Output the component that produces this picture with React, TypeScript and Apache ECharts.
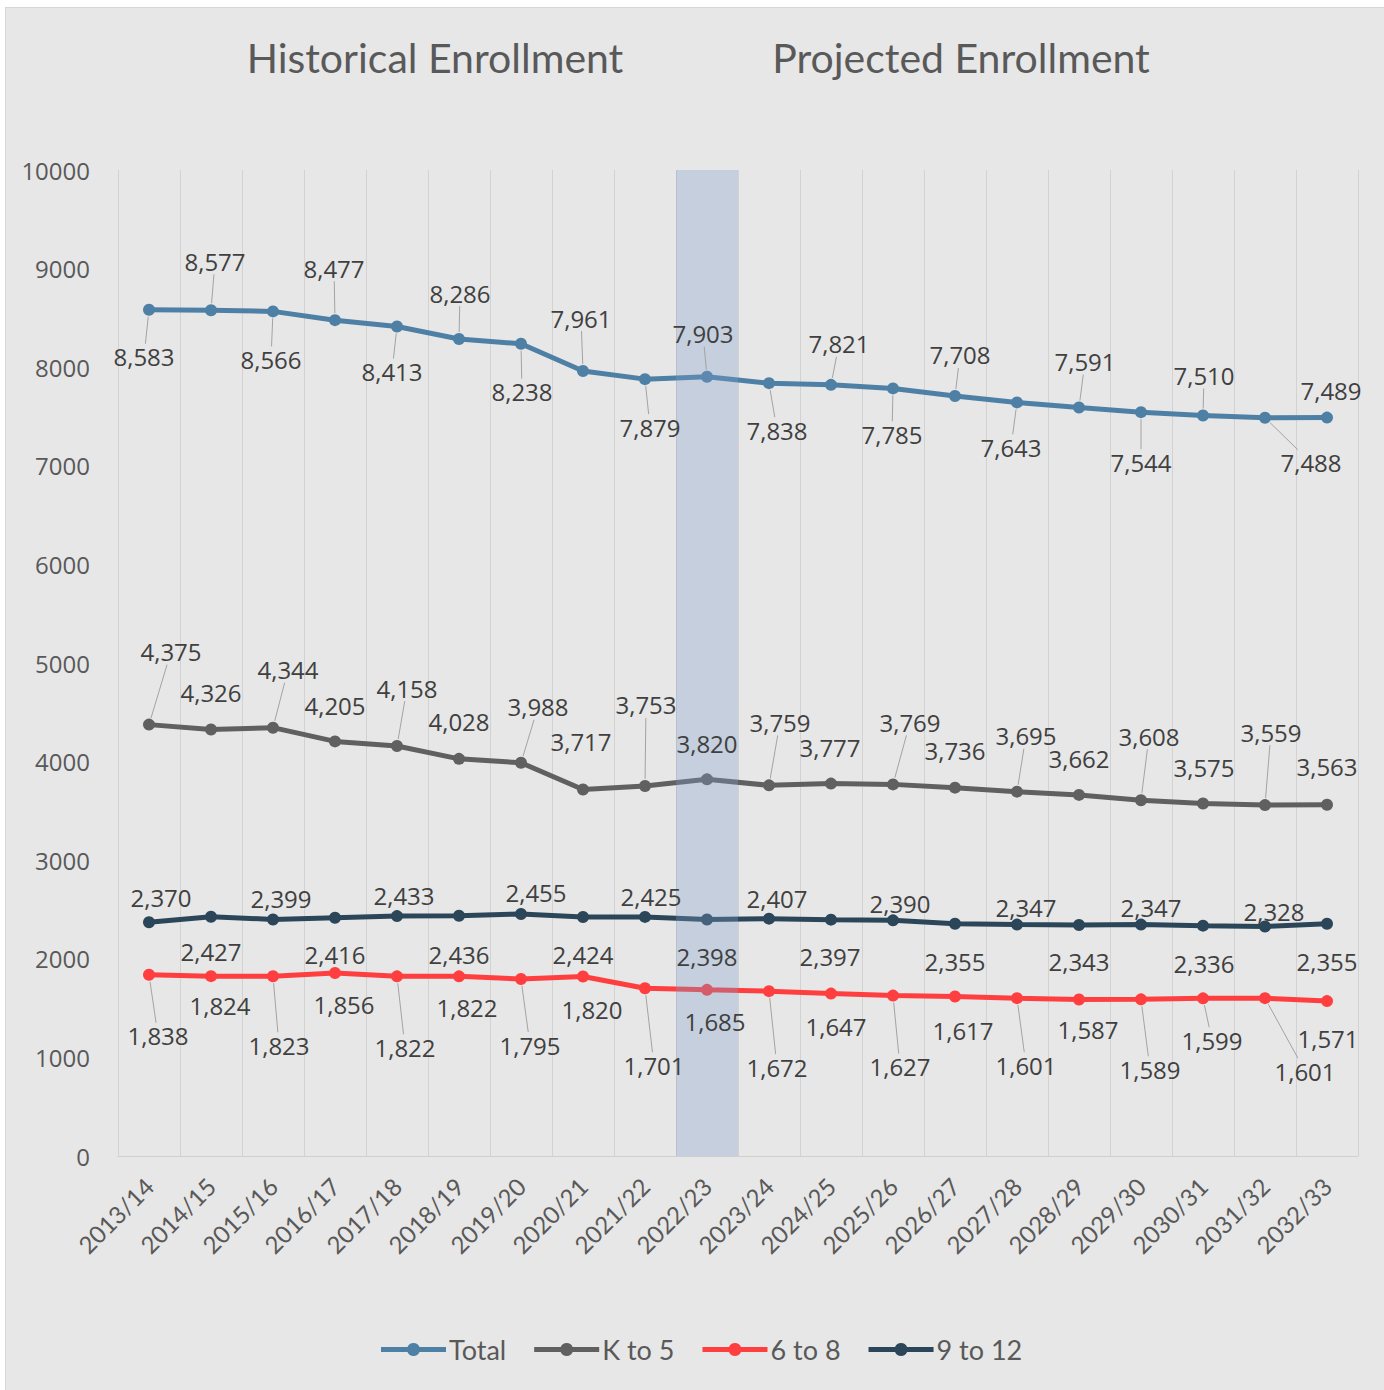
import React, { useEffect, useRef } from 'react';
import * as echarts from 'echarts';

const categories = [
  '2013/14', '2014/15', '2015/16', '2016/17', '2017/18', '2018/19', '2019/20',
  '2020/21', '2021/22', '2022/23', '2023/24', '2024/25', '2025/26', '2026/27',
  '2027/28', '2028/29', '2029/30', '2030/31', '2031/32', '2032/33',
];

const totalValues = [8583, 8577, 8566, 8477, 8413, 8286, 8238, 7961, 7879, 7903, 7838, 7821, 7785, 7708, 7643, 7591, 7544, 7510, 7488, 7489];
const kTo5Values = [4375, 4326, 4344, 4205, 4158, 4028, 3988, 3717, 3753, 3820, 3759, 3777, 3769, 3736, 3695, 3662, 3608, 3575, 3559, 3563];
const g6to8Values = [1838, 1824, 1823, 1856, 1822, 1822, 1795, 1820, 1701, 1685, 1672, 1647, 1627, 1617, 1601, 1587, 1589, 1599, 1601, 1571];
const g9to12Values = [2370, 2427, 2399, 2416, 2433, 2436, 2455, 2424, 2425, 2398, 2407, 2397, 2390, 2355, 2347, 2343, 2347, 2336, 2328, 2355];

const seriesNames = ['Total', 'K to 5', '6 to 8', '9 to 12'];
const periodTitles = ['Historical Enrollment', 'Projected Enrollment'];
const currentYear = '2022/23';
const yMin = 0;
const yMax = 10000;
const yStep = 1000;

// label placement (pixel offsets of each data label from its point) - style only
const totalLabelShift: [number, number][] = [
  [-5, 47], [4, -49], [-2, 48], [-1, -52], [-5, 45], [1, -46], [1, 48], [-2, -53], [5, 48], [-4, -43],
  [8, 47], [8, -41], [-1, 46], [5, -41], [-6, 45], [6, -46], [0, 50], [1, -40], [46, 45], [4, -27],
];
const kTo5LabelShift: [number, number][] = [
  [22, -73], [0, -37], [15, -58], [0, -36], [10, -58], [0, -37], [17, -56], [-2, -48], [1, -81], [0, -36],
  [11, -63], [-1, -36], [17, -62], [0, -37], [9, -56], [0, -36], [8, -64], [1, -36], [6, -73], [0, -38],
];
const g6to8LabelShift: [number, number][] = [
  [9, 61], [9, 29], [6, 69], [9, 32], [8, 71], [8, 31], [9, 66], [9, 33], [9, 77], [8, 32],
  [8, 76], [5, 33], [7, 71], [8, 34], [9, 67], [9, 30], [9, 70], [9, 42], [40, 73], [1, 37],
];
const g9to12LabelShift: [number, number][] = [
  [12, -25], [0, 35], [8, -21], [0, 37], [7, -21], [0, 39], [15, -21], [0, 38], [6, -20], [0, 37],
  [8, -20], [-1, 37], [7, -17], [0, 38], [9, -17], [0, 37], [10, -17], [1, 38], [9, -15], [0, 38],
];

const colors = ['#4e80a6', '#606060', '#ff3f3f', '#2c4659'];
const labelColor = '#404040';
const axisTextColor = '#595959';
const numFont = '"Open Sans", "DejaVu Sans", sans-serif';
const textFont = 'Lato, "Open Sans", sans-serif';

// legend marker: thick line with a dot in the middle (65 x 14 box)
const legendIcon =
  'path://M0 4.5 L26.5 4.5 A6.5 6.5 0 0 1 38.5 4.5 L65 4.5 L65 9.5 L38.5 9.5 A6.5 6.5 0 0 1 26.5 9.5 L0 9.5 Z';

const fmt = (v: number) => v.toLocaleString('en-US');

function makeLabelSeries(name: string, values: number[], shifts: [number, number][], leaderMin: number) {
  return {
    type: 'custom',
    name: name + ' labels',
    data: values.map((v, i) => [i, v]),
    z: 6,
    silent: true,
    clip: false,
    renderItem: (params: any, api: any) => {
      const i = params.dataIndex;
      const p = api.coord([api.value(0), api.value(1)]);
      const [dx, dy] = shifts[i];
      const lx = p[0] + dx;
      const ly = p[1] + dy;
      const children: any[] = [];
      const dist = Math.hypot(dx, dy);
      if (dist > leaderMin) {
        const hw = 30;
        const hh = 13;
        const s = Math.min(hw / Math.max(Math.abs(dx), 1e-6), hh / Math.max(Math.abs(dy), 1e-6));
        const ex = lx - dx * s;
        const ey = ly - dy * s;
        const sx = p[0] + (dx / dist) * 7;
        const sy = p[1] + (dy / dist) * 7;
        children.push({
          type: 'line',
          shape: { x1: sx, y1: sy, x2: ex, y2: ey },
          style: { stroke: '#a3a3a3', lineWidth: 1 },
        });
      }
      children.push({
        type: 'text',
        x: lx,
        y: ly,
        style: {
          text: fmt(values[i]),
          fill: labelColor,
          fontSize: 24,
          fontFamily: numFont,
          align: 'center',
          verticalAlign: 'middle',
          textAlign: 'center',
          textVerticalAlign: 'middle',
        },
      });
      return { type: 'group', children };
    },
  };
}

function makeLine(name: string, values: number[], color: string) {
  return {
    type: 'line',
    name,
    data: values,
    z: 3,
    symbol: 'circle',
    symbolSize: 12,
    lineStyle: { color, width: 5 },
    itemStyle: { color },
    label: { show: false },
  };
}

export default function App() {
  const ref = useRef<HTMLDivElement>(null);

  useEffect(() => {
    if (!ref.current) return;
    const chart = echarts.init(ref.current, undefined, { renderer: 'svg' });
    const option: any = {
      animation: false,
      backgroundColor: '#e7e7e7',
      grid: { left: 112, right: 26, top: 162, bottom: 234, containLabel: false },
      graphic: [
        {
          type: 'text',
          x: 429,
          y: 49,
          style: {
            text: periodTitles[0],
            fill: axisTextColor,
            fontSize: 41,
            fontFamily: textFont,
            textAlign: 'center',
            textVerticalAlign: 'middle',
          },
        },
        {
          type: 'text',
          x: 955,
          y: 49,
          style: {
            text: periodTitles[1],
            fill: axisTextColor,
            fontSize: 41,
            fontFamily: textFont,
            textAlign: 'center',
            textVerticalAlign: 'middle',
          },
        },
      ],
      legend: {
        data: seriesNames.map((n) => ({ name: n, icon: legendIcon })),
        left: 370,
        top: 1323,
        itemWidth: 65,
        itemHeight: 14,
        itemGap: 28,
        textStyle: { color: axisTextColor, fontSize: 27, fontFamily: textFont, padding: [0, 0, 0, -2] },
      },
      xAxis: {
        type: 'category',
        data: categories,
        boundaryGap: true,
        axisTick: { show: false },
        axisLine: { show: true, lineStyle: { color: '#d0d0d0', width: 1 } },
        splitLine: { show: true, lineStyle: { color: '#d2d2d2', width: 1 } },
        axisLabel: {
          interval: 0,
          rotate: 45,
          margin: 26,
          color: axisTextColor,
          fontSize: 24,
          fontFamily: textFont,
        },
      },
      yAxis: {
        type: 'value',
        min: yMin,
        max: yMax,
        interval: yStep,
        axisLine: { show: false },
        axisTick: { show: false },
        splitLine: { show: false },
        axisLabel: {
          margin: 28,
          color: axisTextColor,
          fontSize: 24,
          fontFamily: numFont,
          formatter: (v: number) => String(v),
        },
      },
      series: [
        {
          type: 'bar',
          name: 'Current year',
          data: categories.map((c) => (c === currentYear ? yMax : null)),
          barWidth: '100%',
          barCategoryGap: '0%',
          itemStyle: { color: 'rgba(125,155,198,0.32)' },
          z: 5,
          silent: true,
        },
        makeLine(seriesNames[0], totalValues, colors[0]),
        makeLine(seriesNames[1], kTo5Values, colors[1]),
        makeLine(seriesNames[2], g6to8Values, colors[2]),
        makeLine(seriesNames[3], g9to12Values, colors[3]),
        makeLabelSeries(seriesNames[0], totalValues, totalLabelShift, 35),
        makeLabelSeries(seriesNames[1], kTo5Values, kTo5LabelShift, 52),
        makeLabelSeries(seriesNames[2], g6to8Values, g6to8LabelShift, 40),
        makeLabelSeries(seriesNames[3], g9to12Values, g9to12LabelShift, 999),
      ],
    };
    chart.setOption(option);
    return () => chart.dispose();
  }, []);

  return (
    <div
      ref={ref}
      style={{
        position: 'absolute',
        left: 5,
        top: 7,
        width: 1379,
        height: 1383,
        boxSizing: 'border-box',
        borderLeft: '1px solid #d6d6d6',
        borderTop: '1px solid #d6d6d6',
      }}
    />
  );
}
